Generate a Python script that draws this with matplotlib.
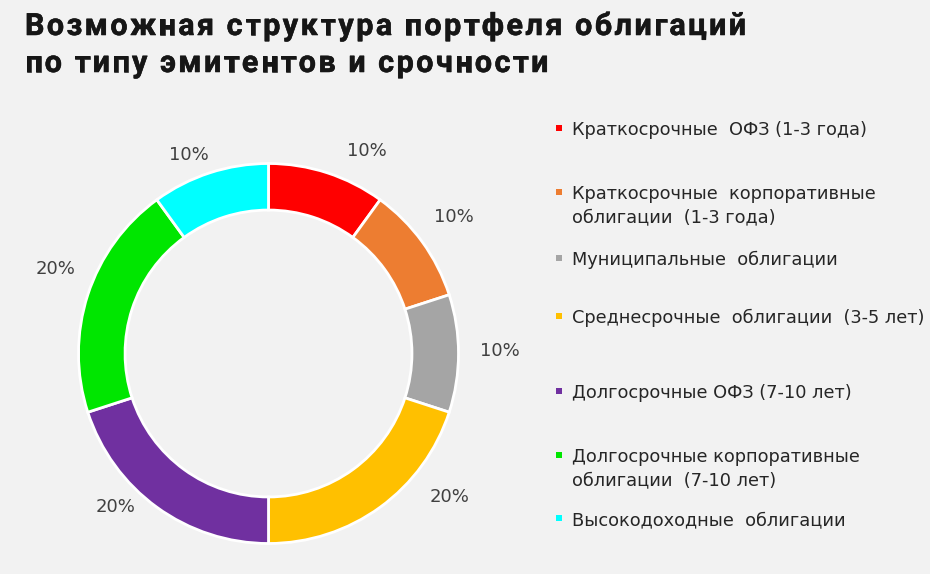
import matplotlib
matplotlib.use("Agg")
import matplotlib.pyplot as plt
from matplotlib.patches import Rectangle
from matplotlib.font_manager import FontProperties
import matplotlib.patheffects as pe

categories = [
    "Краткосрочные  ОФЗ (1-3 года)",
    "Краткосрочные  корпоративные\nоблигации  (1-3 года)",
    "Муниципальные  облигации",
    "Среднесрочные  облигации  (3-5 лет)",
    "Долгосрочные ОФЗ (7-10 лет)",
    "Долгосрочные корпоративные\nоблигации  (7-10 лет)",
    "Высокодоходные  облигации",
]
values = [10, 10, 10, 20, 20, 20, 10]
colors = ["#ff0000", "#ed7d31", "#a5a5a5", "#ffc000", "#7030a0", "#00e600", "#00ffff"]
title_lines = ["Возможная структура портфеля облигаций", "по типу эмитентов и срочности"]

W, H = 930, 574
bg = "#f2f2f2"
fig = plt.figure(figsize=(W / 100, H / 100), dpi=100, facecolor=bg)
renderer = fig.canvas.get_renderer()

cx, cy, R = 268.5, 353.5, 190
ax = fig.add_axes([(cx - R) / W, (H - cy - R) / H, 2 * R / W, 2 * R / H])
ax.set_facecolor(bg)
wedges, texts, autotexts = ax.pie(
    values, colors=colors, startangle=90, counterclock=False,
    wedgeprops=dict(width=0.245, edgecolor="white", linewidth=2),
    autopct=lambda p: f"{p:.0f}%", pctdistance=1.2,
    textprops=dict(color="#404040", fontsize=13, family="DejaVu Sans"),
)
ax.set_xlim(-1, 1)
ax.set_ylim(-1, 1)
ax.axis("off")

# label placement (pixel offsets from donut centre, as in the reference layout)
label_offsets = [(98, 203), (185, 136), (231, 2), (181, -143), (-153, -153), (-213, 85), (-80, 198)]
for t, (dx, dy) in zip(autotexts, label_offsets):
    t.set_position((dx / R, dy / R))
    t.set_ha("center")
    t.set_va("center")

# Title with letter spacing
tprop = FontProperties(family="Roboto", weight="bold", size=22)
title_color = "#161616"
stroke = [pe.withStroke(linewidth=0.4, foreground=title_color)]


def textw(s):
    w, h, d = renderer.get_text_width_height_descent(s, tprop, ismath=False)
    return w


def spaced(x0, baseline, s, spacing):
    for i, ch in enumerate(s):
        if ch == " ":
            continue
        left = textw(s[: i + 1]) - textw(ch) + i * spacing
        fig.text((x0 + left) / W, 1 - baseline / H, ch, fontproperties=tprop,
                 color=title_color, va="baseline", ha="left", path_effects=stroke)


target = 746 - 25
n = len(title_lines[0])
spacing = (target - textw(title_lines[0])) / (n - 1)
spaced(25, 35, title_lines[0], spacing)
spaced(25, 72, title_lines[1], spacing)

# Legend (manual layout)
baselines = [[135], [199, 222], [265], [323], [398], [462, 485], [525]]
for bls, lab, col in zip(baselines, categories, colors):
    fig.patches.append(Rectangle(((558.5 - 3) / W, 1 - (bls[0] - 7 + 3) / H), 6 / W, 6 / H,
                                 transform=fig.transFigure, facecolor=col, edgecolor="none"))
    for line, bl in zip(lab.split("\n"), bls):
        fig.text(572 / W, 1 - bl / H, line, fontsize=12.8, family="DejaVu Sans",
                 color="#262626", va="baseline", ha="left")

fig.savefig("out.png", dpi=100, facecolor=bg)
